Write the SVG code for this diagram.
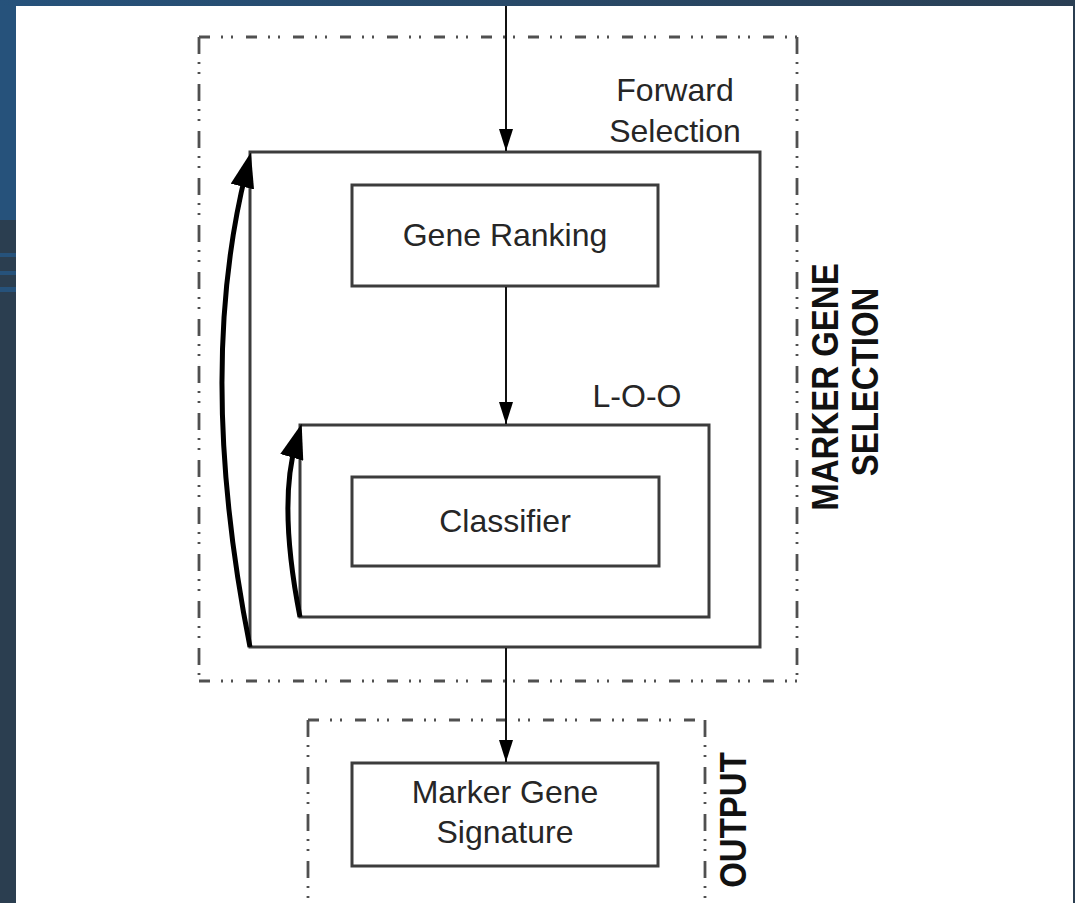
<svg xmlns="http://www.w3.org/2000/svg" width="1075" height="903" viewBox="0 0 1075 903">
  <style>
    .box { fill: #ffffff; stroke: #3c3c3c; stroke-width: 3; }
    .frameH { fill: none; stroke: #505050; stroke-width: 2.8; stroke-dasharray: 11 11 2 8 2 13; }
    .frameV { fill: none; stroke: #505050; stroke-width: 2.8; stroke-dasharray: 17 8 2 8 2 10; }
    .lbl { font-family: "Liberation Sans", Arial, sans-serif; font-size: 32px; fill: #262626; text-anchor: middle; }
    .side { font-family: "Liberation Sans", Arial, sans-serif; font-size: 33px; font-weight: bold; fill: #111111; text-anchor: middle; }
    .conn { fill: none; stroke: #111111; stroke-width: 2; }
    .loop { fill: none; stroke: #000000; stroke-width: 5; }
  </style>
  <defs>
    <linearGradient id="topbar" x1="0" y1="0" x2="1" y2="0">
      <stop offset="0" stop-color="#26527b"/>
      <stop offset="1" stop-color="#2a3f54"/>
    </linearGradient>
    <marker id="arrowThin" markerUnits="userSpaceOnUse" markerWidth="22" markerHeight="14" refX="22" refY="7" orient="auto">
      <path d="M0,0 L22,7 L0,14 z" fill="#000000"/>
    </marker>
    <marker id="arrowThick" markerUnits="userSpaceOnUse" markerWidth="35" markerHeight="24" refX="15" refY="12" orient="auto">
      <path d="M0,0 L35,12 L0,24 z" fill="#000000"/>
    </marker>
  </defs>

  <!-- background frame -->
  <g id="background">
    <rect x="0" y="0" width="1075" height="903" fill="#2b3e50"/>
    <rect x="0" y="0" width="16" height="220" fill="#26527b"/>
    <rect x="0" y="253" width="16" height="4" fill="#26527b"/>
    <rect x="0" y="271" width="16" height="4" fill="#26527b"/>
    <rect x="0" y="287" width="16" height="5" fill="#26527b"/>
    <rect x="0" y="0" width="1075" height="6" fill="url(#topbar)"/>
    <rect x="16" y="6" width="1057" height="897" fill="#ffffff"/>
  </g>

  <!-- MARKER GENE SELECTION frame -->
  <g id="marker-gene-selection">
    <line class="frameH" x1="199" y1="37" x2="797" y2="37"/>
    <line class="frameH" x1="199" y1="681" x2="797" y2="681"/>
    <line class="frameV" x1="199" y1="37" x2="199" y2="681"/>
    <line class="frameV" x1="797" y1="37" x2="797" y2="681"/>
    <text class="side" transform="translate(838,387) rotate(-90) scale(1,1.1)">MARKER GENE</text>
    <text class="side" transform="translate(878,382) rotate(-90) scale(1,1.1)">SELECTION</text>
  </g>

  <!-- Forward Selection loop box -->
  <g id="forward-selection">
    <rect class="box" x="250" y="152" width="510" height="495"/>
    <text class="lbl" x="675" y="101">Forward</text>
    <text class="lbl" x="675" y="142">Selection</text>
  </g>

  <!-- Gene Ranking -->
  <g id="gene-ranking">
    <rect class="box" x="352" y="185" width="306" height="101"/>
    <text class="lbl" x="505" y="246">Gene Ranking</text>
  </g>

  <!-- L-O-O loop box -->
  <g id="loo">
    <rect class="box" x="300" y="425" width="409" height="192"/>
    <text class="lbl" x="637" y="407">L-O-O</text>
  </g>

  <!-- Classifier -->
  <g id="classifier">
    <rect class="box" x="352" y="477" width="307" height="89"/>
    <text class="lbl" x="505" y="532">Classifier</text>
  </g>

  <!-- OUTPUT frame -->
  <g id="output">
    <line class="frameH" x1="308" y1="720" x2="705" y2="720"/>
    <line class="frameV" x1="308" y1="720" x2="308" y2="903"/>
    <line class="frameV" x1="705" y1="720" x2="705" y2="903"/>
    <text class="side" transform="translate(746,820) rotate(-90) scale(1,1.1)">OUTPUT</text>
  </g>

  <!-- Marker Gene Signature -->
  <g id="marker-gene-signature">
    <rect class="box" x="352" y="763" width="306" height="103"/>
    <text class="lbl" x="505" y="803">Marker Gene</text>
    <text class="lbl" x="505" y="843">Signature</text>
  </g>

  <!-- connectors -->
  <g id="connectors">
    <line class="conn" x1="506" y1="6" x2="506" y2="151" marker-end="url(#arrowThin)"/>
    <line class="conn" x1="506" y1="287" x2="506" y2="424" marker-end="url(#arrowThin)"/>
    <line class="conn" x1="506" y1="648" x2="506" y2="762" marker-end="url(#arrowThin)"/>
    <path class="loop" d="M250,647 Q196,374 246,172" marker-end="url(#arrowThick)"/>
    <path class="loop" d="M300,617 Q278,504 296,443" marker-end="url(#arrowThick)"/>
  </g>
</svg>
